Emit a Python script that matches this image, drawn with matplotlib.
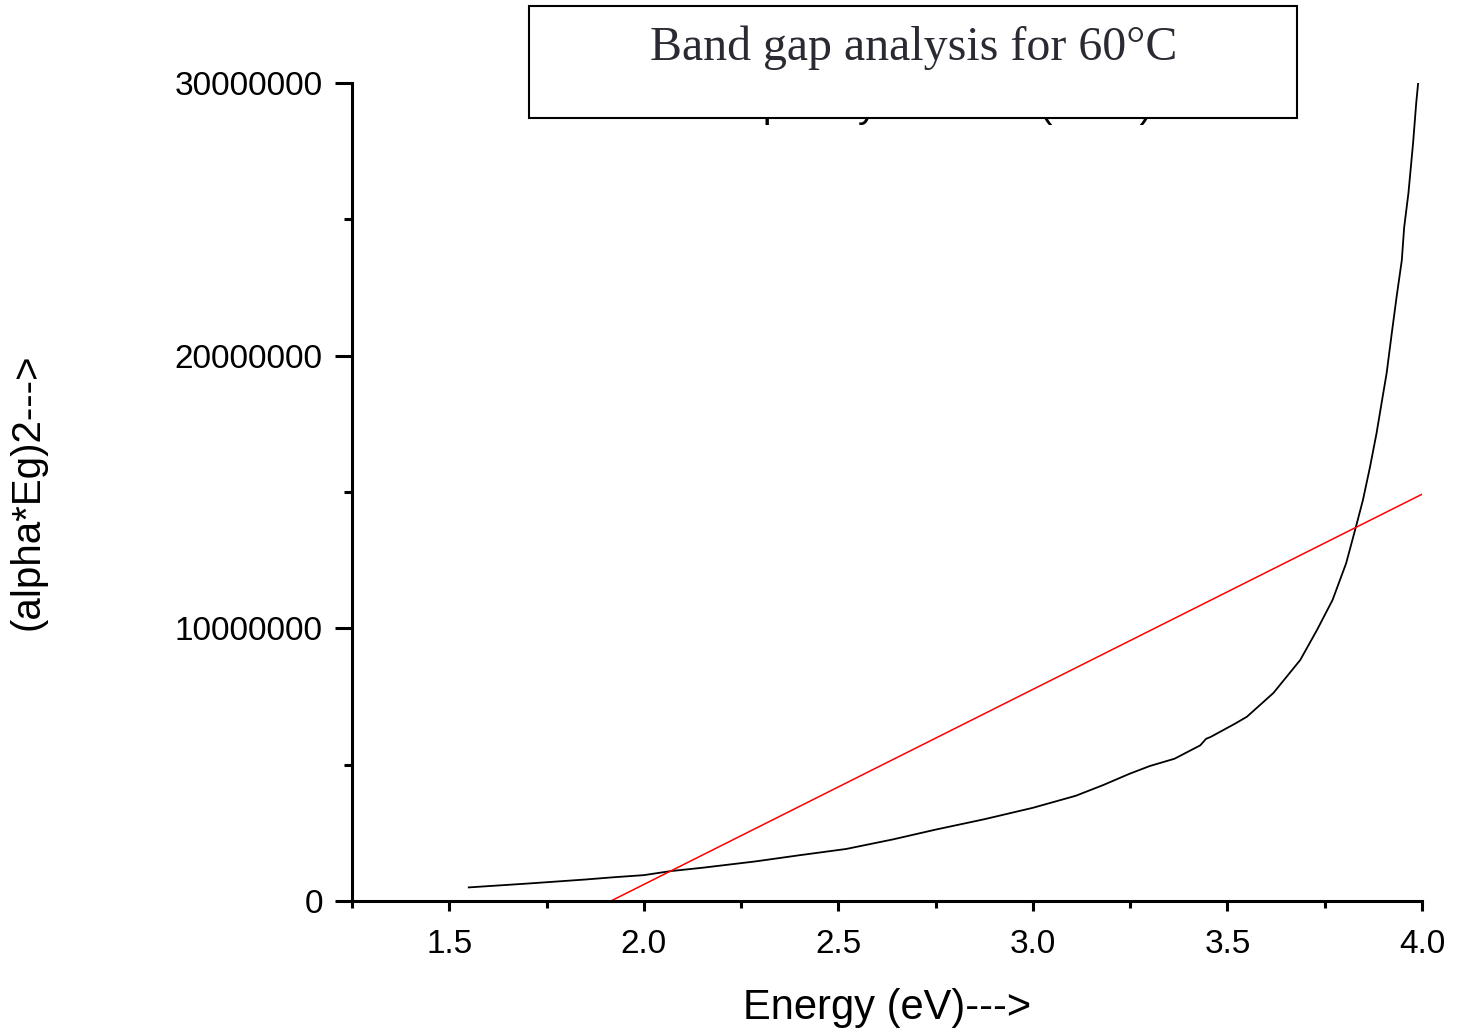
import matplotlib.pyplot as plt
from matplotlib.ticker import MultipleLocator

energy = [1.55, 1.70, 1.85, 1.92, 2.0, 2.07, 2.15, 2.285, 2.40, 2.52, 2.64, 2.75, 2.875,
          3.0, 3.11, 3.18, 3.247, 3.30, 3.364, 3.43, 3.445, 3.457, 3.52, 3.55, 3.618,
          3.687, 3.73, 3.77, 3.805, 3.83, 3.848, 3.866, 3.883, 3.896, 3.909, 3.922,
          3.935, 3.948, 3.954, 3.965, 3.977, 3.985, 3.99]
alpha_eg2 = [0.50e6, 0.64e6, 0.79e6, 0.87e6, 0.95e6, 1.10e6, 1.22e6, 1.45e6, 1.68e6, 1.91e6, 2.26e6, 2.62e6, 3.0e6,
             3.42e6, 3.86e6, 4.25e6, 4.66e6, 4.95e6, 5.22e6, 5.71e6, 5.95e6, 6.02e6, 6.51e6, 6.76e6, 7.63e6,
             8.84e6, 9.94e6, 11.04e6, 12.39e6, 13.72e6, 14.7e6, 15.9e6, 17.15e6, 18.26e6, 19.36e6, 20.8e6,
             22.2e6, 23.5e6, 24.7e6, 25.96e6, 27.8e6, 29.26e6, 30.0e6]

# linear fit line
fit_x = [1.915, 4.0]
fit_y = [0.0, 14.92e6]

xticks = [1.5, 2.0, 2.5, 3.0, 3.5, 4.0]
yticks = [0, 10000000, 20000000, 30000000]

plt.rcParams['font.family'] = ['Liberation Sans', 'DejaVu Sans']

fig = plt.figure(figsize=(14.6, 10.3), dpi=100)
ax = fig.add_axes([0.2411, 0.1252, 0.7329, 0.7942])

ax.plot(energy, alpha_eg2, color='black', lw=1.3)
ax.plot(fit_x, fit_y, color='red', lw=1.1)

ax.set_xlim(1.25, 4.0)
ax.set_ylim(0, 3e7)
ax.set_xticks(xticks)
ax.set_xticklabels(['%.1f' % v for v in xticks])
ax.set_yticks(yticks)
ax.set_yticklabels([str(v) for v in yticks])
ax.xaxis.set_minor_locator(MultipleLocator(0.25))
ax.yaxis.set_minor_locator(MultipleLocator(5e6))

for s in ['top', 'right']:
    ax.spines[s].set_visible(False)
for s in ['left', 'bottom']:
    ax.spines[s].set_linewidth(2.2)

ax.tick_params(axis='both', which='major', labelsize=24, width=2.2)
ax.tick_params(axis='y', which='major', length=12, pad=9)
ax.tick_params(axis='y', which='minor', length=6, width=2.2)
ax.tick_params(axis='x', which='major', length=7, pad=13)
ax.tick_params(axis='x', which='minor', length=5, width=2.2)

ax.set_xlabel('Energy (eV)--->', fontsize=30, labelpad=20)
ax.set_ylabel('(alpha*Eg)2--->', fontsize=29, labelpad=92)

# original title, mostly hidden behind the box
fig.text(1152 / 1460, 1 - 117 / 1030, 'Tauc plot by the data (60°C)', fontsize=28,
         ha='right', va='baseline', zorder=1)

# title box
box = plt.Rectangle((529 / 1460, 1 - 118 / 1030), (1297 - 529) / 1460, (118 - 6) / 1030,
                    transform=fig.transFigure, facecolor='white', edgecolor='black', lw=1.5, zorder=2)
fig.patches.append(box)
fig.text(914 / 1460, 1 - 60 / 1030, 'Band gap analysis for 60°C', fontsize=34.5, ha='center', va='baseline',
         family=['Liberation Serif', 'DejaVu Serif'], color='#2a2a33', zorder=3)

fig.savefig('out.png', dpi=100)
